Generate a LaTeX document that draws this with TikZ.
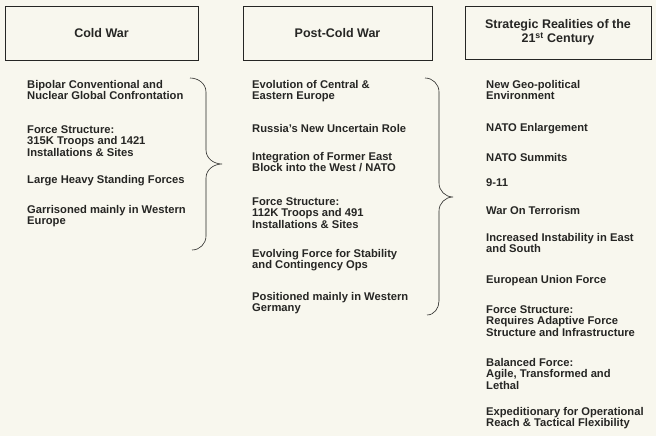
\documentclass[tikz,border=0pt]{standalone}
\usepackage{fontspec}
\setmainfont{Liberation Sans}
\usetikzlibrary{positioning,calc}
\definecolor{scanpaper}{RGB}{248,247,238}
\definecolor{scanink}{RGB}{38,38,36}
\tikzset{era box/.style={draw=scanink, semithick, align=center, inner sep=2pt, text=scanink, font=\fontsize{12.5}{12.5}\selectfont\bfseries}}
\tikzset{era item/.style={anchor=north west, align=left, inner sep=0pt, text=scanink, font=\fontsize{11.2}{11.6}\selectfont\bfseries}}
\tikzset{era brace/.style={draw=scanink, semithick}}

\begin{document}
\begin{tikzpicture}[x=1pt,y=-1pt]
		\fill[scanpaper] (0,0) rectangle (656,436);
		\useasboundingbox (0,0) rectangle (656,436);

		% headers
		\node[era box, minimum width=193pt, minimum height=54pt] (cold) at (101.5,33) {Cold War};
		\node[era box, minimum width=189pt, minimum height=54pt] (post) at (337.5,33) {Post-Cold War};
		\node[era box, minimum width=186pt, minimum height=53pt] (now) at (558,32.5) {Strategic Realities of the\\21\textsuperscript{st} Century};

		% cold war column
		\node[era item] (c1) at (27,80) {Bipolar Conventional and\\Nuclear Global Confrontation};
		\node[era item] (c2) at (27,125) {Force Structure:\\315K Troops and 1421\\Installations \& Sites};
		\node[era item] (c3) at (27,175) {Large Heavy Standing Forces};
		\node[era item] (c4) at (27,205) {Garrisoned mainly in Western\\Europe};

		% post-cold war column
		\node[era item] (p1) at (252,80) {Evolution of Central \&\\Eastern Europe};
		\node[era item] (p2) at (252,124) {Russia's New Uncertain Role};
		\node[era item] (p3) at (252,152) {Integration of Former East\\Block into the West / NATO};
		\node[era item] (p4) at (252,197) {Force Structure:\\112K Troops and 491\\Installations \& Sites};
		\node[era item] (p5) at (252,249) {Evolving Force for Stability\\and Contingency Ops};
		\node[era item] (p6) at (252,292) {Positioned mainly in Western\\Germany};

		% 21st century column
		\node[era item] (n1) at (486,80) {New Geo-political\\Environment};
		\node[era item] (n2) at (486,123) {NATO Enlargement};
		\node[era item] (n3) at (486,153) {NATO Summits};
		\node[era item] (n4) at (486,178) {9-11};
		\node[era item] (n5) at (486,206) {War On Terrorism};
		\node[era item] (n6) at (486,233) {Increased Instability in East\\and South};
		\node[era item] (n7) at (486,275) {European Union Force};
		\node[era item] (n8) at (486,305) {Force Structure:\\Requires Adaptive Force\\Structure and Infrastructure};
		\node[era item] (n9) at (486,358) {Balanced Force:\\Agile, Transformed and\\Lethal};
		\node[era item] (n10) at (486,407) {Expeditionary for Operational\\Reach \& Tactical Flexibility};

		% braces
		\coordinate (tipA) at (222,164);
		\coordinate (tipB) at (453,197);
		\draw[era brace] (190,78) to[out=0,in=90] (206,92) -- (206,150) to[out=-90,in=180] (tipA)
			to[out=180,in=90] (206,178) -- (206,236) to[out=-90,in=0] (192,250);
		\draw[era brace] (425,78) to[out=0,in=90] (439,92) -- (439,183) to[out=-90,in=180] (tipB)
			to[out=180,in=90] (439,211) -- (439,301) to[out=-90,in=0] (427,315);
	\end{tikzpicture}
\end{document}
